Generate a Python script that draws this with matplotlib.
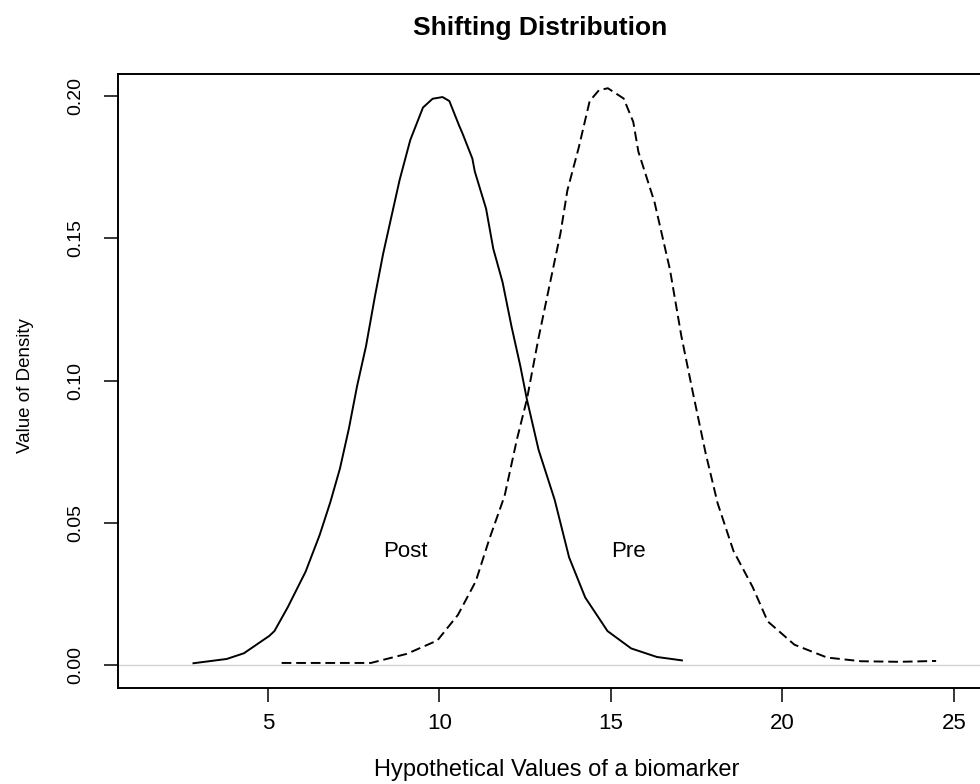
import matplotlib
matplotlib.use("Agg")
import matplotlib.pyplot as plt

plt.rcParams['font.family'] = ['Liberation Sans', 'DejaVu Sans']

# density curves
post_x = [2.83, 3.80, 4.30, 5.04, 5.19, 5.58, 6.10, 6.51, 6.82, 7.10, 7.36, 7.60,
          7.86, 8.12, 8.36, 8.58, 8.84, 9.15, 9.52, 9.80, 10.09, 10.29, 10.57, 10.68,
          10.96, 11.03, 11.36, 11.57, 11.84, 12.10, 12.36, 12.55, 12.89, 13.36, 13.78,
          14.25, 14.90, 15.59, 16.34, 17.07]
post_y = [0.0007, 0.0022, 0.0042, 0.0103, 0.0120, 0.0204, 0.0329, 0.0458, 0.0573,
          0.0691, 0.0831, 0.0981, 0.1121, 0.1296, 0.1446, 0.1565, 0.1705, 0.1845,
          0.1959, 0.1990, 0.1996, 0.1982, 0.1897, 0.1866, 0.1780, 0.1735, 0.1604,
          0.1463, 0.1346, 0.1191, 0.1050, 0.0934, 0.0757, 0.0581, 0.0379, 0.0238,
          0.0120, 0.0059, 0.0029, 0.0017]

pre_x = [5.40, 8.00, 9.05, 9.94, 10.54, 11.06, 11.46, 11.90, 12.26, 12.55, 12.88,
         13.20, 13.53, 13.73, 14.06, 14.38, 14.65, 14.91, 15.37, 15.65, 15.80, 16.27,
         16.72, 17.05, 17.39, 17.76, 18.11, 18.57, 19.13, 19.57, 20.35, 21.30, 22.29,
         23.40, 24.48]
pre_y = [0.0008, 0.0008, 0.0040, 0.0087, 0.0177, 0.0295, 0.0445, 0.0595, 0.0794,
         0.0934, 0.1144, 0.1329, 0.1518, 0.1668, 0.1818, 0.1982, 0.2020, 0.2027,
         0.1991, 0.1909, 0.1804, 0.1627, 0.1390, 0.1158, 0.0957, 0.0745, 0.0569,
         0.0402, 0.0275, 0.0154, 0.0072, 0.0027, 0.0014, 0.0012, 0.0015]

x_ticks = [5, 10, 15, 20, 25]
y_ticks = [0.00, 0.05, 0.10, 0.15, 0.20]
y_tick_labels = ["0.00", "0.05", "0.10", "0.15", "0.20"]

fig = plt.figure(figsize=(9.8, 7.84), dpi=100)
ax = fig.add_axes([118 / 980, 96 / 784, 884 / 980, 614 / 784])

ax.axhline(0, color="#d4d4d4", lw=1.0, zorder=1)
ax.plot(post_x, post_y, color="black", lw=1.4, zorder=2)
ax.plot(pre_x, pre_y, color="black", lw=1.4, dashes=(5, 2.5), zorder=2)

ax.text(9.0, 0.040, "Post", fontsize=16, ha="center", va="center")
ax.text(15.5, 0.040, "Pre", fontsize=16, ha="center", va="center")

ax.set_xlim(0.63, 26.4)
ax.set_ylim(-0.008, 0.2077)
ax.set_xticks(x_ticks)
ax.set_yticks(y_ticks)
ax.set_yticklabels(y_tick_labels, rotation=90, va="center")
ax.tick_params(axis="both", direction="out", length=10, width=1.1)
ax.tick_params(axis="x", pad=8, labelsize=16)
ax.tick_params(axis="y", pad=14, labelsize=14)
for s in ax.spines.values():
    s.set_linewidth(1.4)

fig.text(540 / 980, 1 - 28 / 784, "Shifting Distribution", fontsize=19,
         fontweight="bold", ha="center", va="center")
fig.text(557 / 980, 1 - 770 / 784, "Hypothetical Values of a biomarker",
         fontsize=17, ha="center", va="center")
fig.text(25 / 980, 1 - 386 / 784, "Value of Density", fontsize=13.5,
         rotation=90, ha="center", va="center")

fig.savefig("out.png", dpi=100)
